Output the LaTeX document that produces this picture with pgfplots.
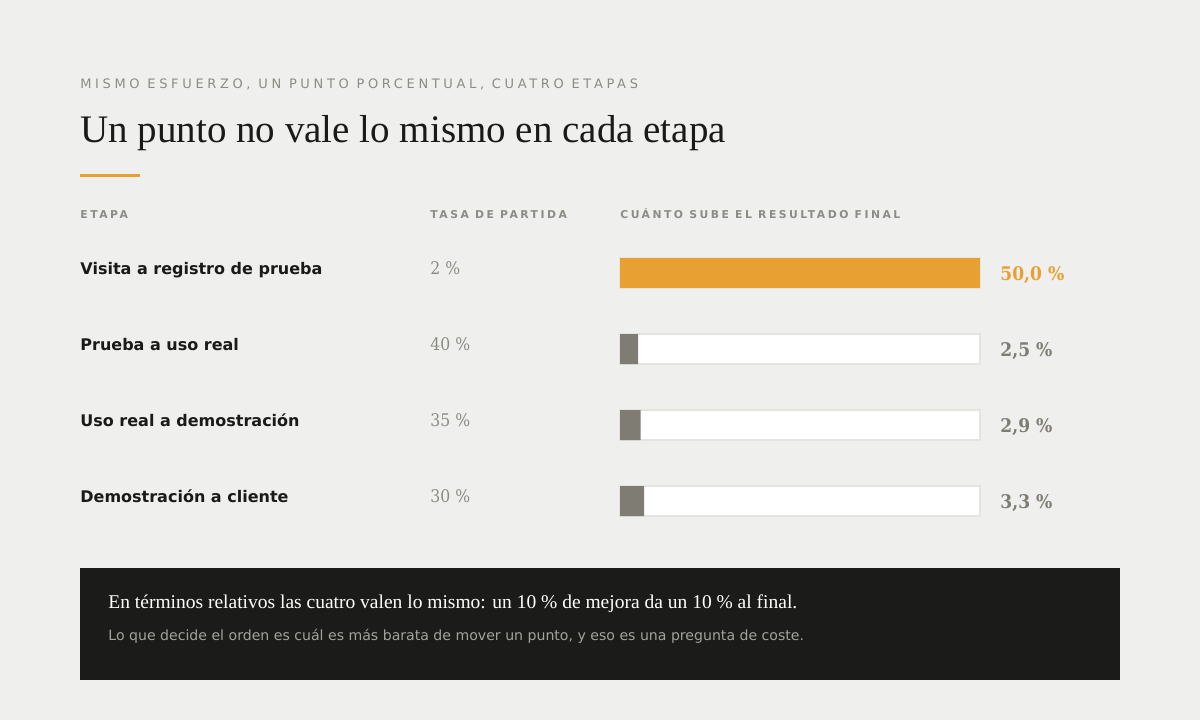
\documentclass[border=0pt]{standalone}
\usepackage{fontspec}
\usepackage{pgfplots}
\usepackage{pgfplotstable}
\pgfplotsset{compat=1.18}
\setmainfont{Liberation Serif}
\setsansfont{DejaVu Sans}
\newfontfamily\kickerfont[LetterSpace=28]{DejaVu Sans}
\newfontfamily\colfont[LetterSpace=23]{DejaVu Sans}
\newfontfamily\numfont[FakeStretch=0.9]{DejaVu Serif}
\newfontfamily\valfont[FakeStretch=0.91]{DejaVu Serif Bold}

\definecolor{bg}{HTML}{EFF0ED}
\definecolor{accent}{HTML}{E8A033}
\definecolor{barg}{HTML}{7E7C73}
\definecolor{track}{HTML}{E4E4E1}
\definecolor{ink}{HTML}{1A1A1A}
\definecolor{mute}{HTML}{8C8B84}
\definecolor{boxbg}{HTML}{1B1B19}
\definecolor{boxsub}{HTML}{A3A39C}

% y: fila, rate: tasa de partida (%), gain: subida del resultado final (%)
\pgfplotstableread{
y rate gain full
0 2  50.0  50
1 40 2.5   50
2 35 2.857 50
3 30 3.333 50
}\etapas

\begin{document}
\begin{tikzpicture}
\fill[bg] (0,0) rectangle (600pt,360pt);

\begin{axis}[
	at = {(310pt,242.5pt)},
	anchor = north west,
	scale only axis,
	width = 180pt,
	height = 152pt,
	xmin = 0, xmax = 50,
	ymin = -0.5, ymax = 3.5,
	y dir = reverse,
	hide axis,
	clip = false,
	every axis plot/.append style = {xbar, bar width = 15pt, bar shift = 0pt},
]
\addplot[fill = white, draw = track, line width = 0.6pt] table[x = full, y = y] \etapas;
\addplot[fill = accent, draw = none, skip coords between index = {1}{4}] table[x = gain, y = y] \etapas;
\addplot[fill = barg, draw = none, skip coords between index = {0}{1}] table[x = gain, y = y] \etapas;
\end{axis}

\begin{scope}[x = 0.5pt, y = -0.5pt, shift = {(0pt,360pt)}, every node/.style = {inner sep = 0pt, anchor = base west}]
	\node[text = mute, font = \kickerfont\fontsize{6.5pt}{8pt}\selectfont] at (80,88) {MISMO ESFUERZO, UN PUNTO PORCENTUAL, CUATRO ETAPAS};
	\node[text = ink, font = \fontsize{19.5pt}{23pt}\selectfont] at (80,142) {Un punto no vale lo mismo en cada etapa};
	\fill[accent] (80,173.5) rectangle (140,176.5);

	\begin{scope}[every node/.append style = {text = mute, font = \colfont\bfseries\fontsize{5.4pt}{7pt}\selectfont}]
		\node at (80,218) {ETAPA};
		\node at (430,218) {TASA DE PARTIDA};
		\node at (620,218) {CUÁNTO SUBE EL RESULTADO FINAL};
	\end{scope}

	\begin{scope}[every node/.append style = {text = ink, font = \sffamily\bfseries\fontsize{8pt}{9.5pt}\selectfont}]
		\node at (80,274) {Visita a registro de prueba};
		\node at (80,350) {Prueba a uso real};
		\node at (80,426) {Uso real a demostración};
		\node at (80,502) {Demostración a cliente};
	\end{scope}

	\begin{scope}[every node/.append style = {text = mute, font = \numfont\fontsize{8.7pt}{10.5pt}\selectfont}]
		\node at (430,274) {2 \%};
		\node at (430,350) {40 \%};
		\node at (430,426) {35 \%};
		\node at (430,502) {30 \%};
	\end{scope}

	\begin{scope}[every node/.append style = {font = \valfont\fontsize{9.4pt}{11.5pt}\selectfont}]
		\node[text = accent] at (1000,280) {50,0 \%};
		\node[text = barg] at (1000,356) {2,5 \%};
		\node[text = barg] at (1000,432) {2,9 \%};
		\node[text = barg] at (1000,508) {3,3 \%};
	\end{scope}

	\fill[boxbg] (80,568) rectangle (1120,680);
	\node[text = white, font = \fontsize{9.75pt}{11.5pt}\selectfont] at (108,608) {En términos relativos las cuatro valen lo mismo: un 10 \% de mejora da un 10 \% al final.};
	\node[text = boxsub, font = \sffamily\fontsize{7.05pt}{8.5pt}\selectfont] at (108,640) {Lo que decide el orden es cuál es más barata de mover un punto, y eso es una pregunta de coste.};
\end{scope}

\pgfresetboundingbox
\useasboundingbox (0,0) rectangle (600pt,360pt);
\end{tikzpicture}
\end{document}
